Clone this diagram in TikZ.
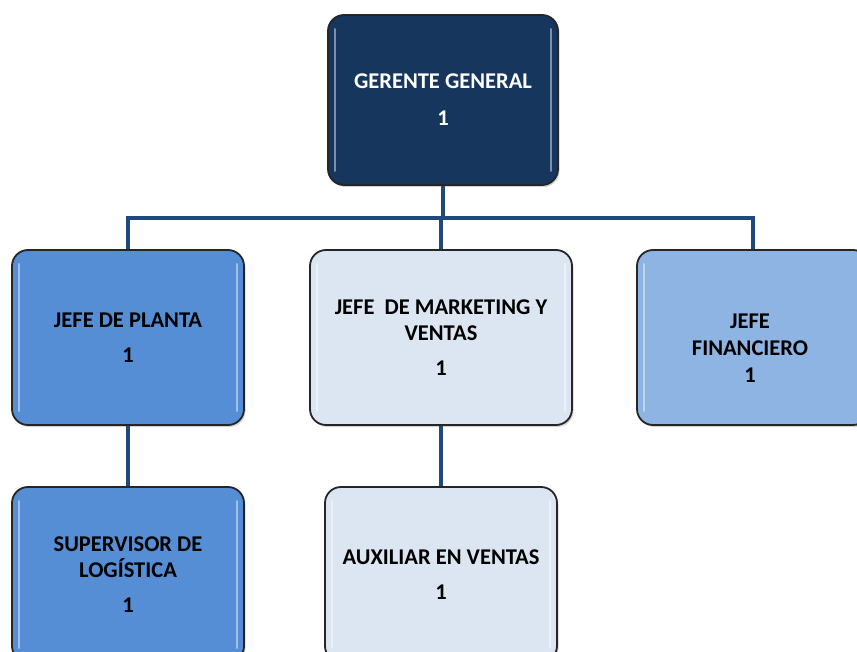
\documentclass[tikz,border=0pt]{standalone}
\usepackage{fontspec}
\setmainfont{Carlito}
\usetikzlibrary{shadows}
\definecolor{navy}{HTML}{17365D}
\definecolor{midblue}{HTML}{558ED5}
\definecolor{paleblue}{HTML}{DCE6F2}
\definecolor{skyblue}{HTML}{8EB4E3}
\definecolor{linecol}{HTML}{1F497D}
\tikzset{
  box/.style={draw=black!85, line width=1.8pt, rounded corners=16pt,
    minimum width=232pt, minimum height=175pt, align=center,
    font=\fontsize{22.5}{26}\selectfont\bfseries, text=black,
    drop shadow={opacity=0.35, shadow xshift=1.5pt, shadow yshift=-2pt},
    path picture={
      \draw[white, opacity=0.45, line width=2pt, line cap=round]
        ([xshift=7pt,yshift=-14pt]path picture bounding box.north west) --
        ([xshift=7pt,yshift=14pt]path picture bounding box.south west);
      \draw[white, opacity=0.45, line width=2pt, line cap=round]
        ([xshift=-7pt,yshift=-14pt]path picture bounding box.north east) --
        ([xshift=-7pt,yshift=14pt]path picture bounding box.south east);
    }},
  conn/.style={draw=linecol, line width=3.5pt},
  lbl/.style={align=center, font=\fontsize{22.5}{27}\selectfont\bfseries, text=black}
}
\begin{document}
\begin{tikzpicture}[x=1pt,y=-1pt]
\useasboundingbox (0,0) rectangle (857,652);
\clip (0,0) rectangle (857,652);
\coordinate (j) at (443,218);
\node[box, fill=navy, text=white, minimum width=230pt, minimum height=170pt] (gg) at (443,100) {GERENTE GENERAL\\[11pt]1};
\node[box, fill=midblue] (jp) at (128,337.5) {JEFE DE PLANTA\\[9pt]1};
\node[box, fill=paleblue, minimum width=262pt] (jmv) at (441,337.5) {JEFE\ \ DE MARKETING Y\\VENTAS\\[9pt]1};
\node[box, fill=skyblue] (jf) at (753,337.5) {};
\node[lbl] (jft) at (750,348) {JEFE\\FINANCIERO\\1};
\node[box, fill=midblue] (sup) at (128,574.5) {SUPERVISOR DE\\LOGÍSTICA\\[9pt]1};
\node[box, fill=paleblue] (aux) at (441,574.5) {AUXILIAR\ EN VENTAS\\[9pt]1};
\draw[conn] (gg.south) -- (j);
\draw[conn] (jp.north) |- (j) -| (jf.north);
\draw[conn] (jmv.north) -- (jmv.north |- j);
\draw[conn] (jp.south) -- (sup.north);
\draw[conn] (jmv.south) -- (jmv.south |- aux.north);
\end{tikzpicture}
\end{document}
